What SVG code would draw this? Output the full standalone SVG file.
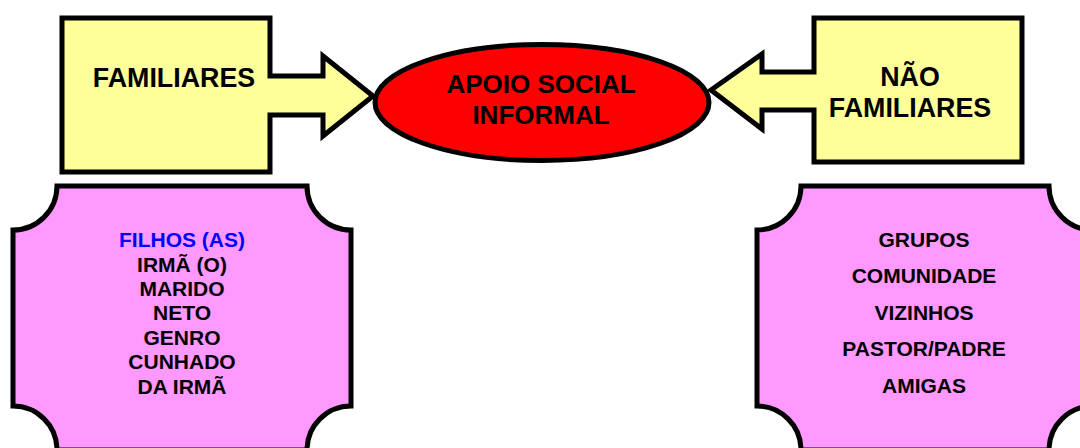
<svg xmlns="http://www.w3.org/2000/svg" width="1080" height="448" viewBox="0 0 1080 448">
<style>
.box{fill:#ffff99;stroke:#000;stroke-width:5;stroke-linejoin:miter}
.plaque{fill:#ff99ff;stroke:#000;stroke-width:5}
.ell{fill:#ff0000;stroke:#000;stroke-width:5}
text{font-family:"Liberation Sans",Arial,sans-serif;font-weight:bold;fill:#000;text-anchor:middle}
.big{font-size:26.8px}
.mid{font-size:26px}
.l{font-size:21px}
.r{font-size:21px}
.blue{fill:#0000ff}
</style>
<rect width="1080" height="448" fill="#ffffff"/>
<g id="familiares">
<path class="box" d="M62,18 H270 V76 H323 V56 L373,96 L323,136 V115 H270 V172 H62 Z"/>
<text class="big" x="174" y="87">FAMILIARES</text>
</g>
<g id="nao-familiares">
<path class="box" d="M1022,18 H814 V72 H762 V54 L711,90 L762,129 V110 H814 V162 H1022 Z"/>
<text class="big" x="910" y="86">NÃO</text>
<text class="big" x="910" y="117">FAMILIARES</text>
</g>
<g id="apoio">
<ellipse class="ell" cx="542" cy="102.5" rx="167" ry="58"/>
<text class="mid" x="541" y="93">APOIO SOCIAL</text>
<text class="mid" x="541" y="123.5">INFORMAL</text>
</g>
<g id="lista-familiares">
<path class="plaque" d="M57,186 H307 A44,44 0 0 0 351,230 V406 A44,44 0 0 0 307,450 H57 A44,44 0 0 0 13,406 V230 A44,44 0 0 0 57,186 Z"/>
<text class="l blue" x="182" y="247">FILHOS (AS)</text>
<text class="l" x="182" y="271.5">IRMÃ (O)</text>
<text class="l" x="182" y="296">MARIDO</text>
<text class="l" x="182" y="320">NETO</text>
<text class="l" x="182" y="345">GENRO</text>
<text class="l" x="182" y="369">CUNHADO</text>
<text class="l" x="182" y="394">DA IRMÃ</text>
</g>
<g id="lista-nao-familiares">
<path class="plaque" d="M801,186 H1049 A44,44 0 0 0 1093,230 V406 A44,44 0 0 0 1049,450 H801 A44,44 0 0 0 757,406 V230 A44,44 0 0 0 801,186 Z"/>
<text class="r" x="924" y="247">GRUPOS</text>
<text class="r" x="924" y="283">COMUNIDADE</text>
<text class="r" x="924" y="320">VIZINHOS</text>
<text class="r" x="924" y="356">PASTOR/PADRE</text>
<text class="r" x="924" y="393">AMIGAS</text>
</g>
<g id="connectors"></g>
</svg>
